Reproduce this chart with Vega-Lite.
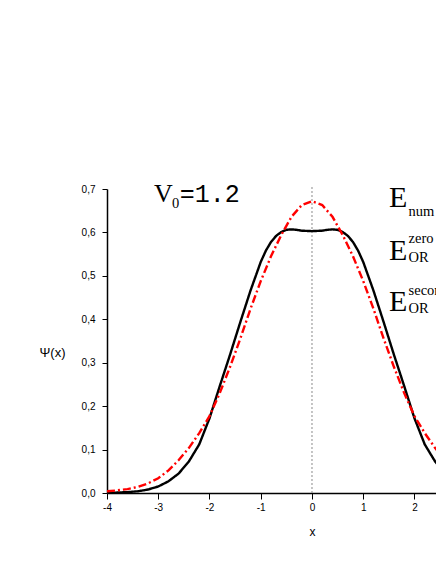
{
  "$schema": "https://vega.github.io/schema/vega-lite/v6.json",
  "width": 329,
  "height": 304,
  "autosize": {"type": "none"},
  "padding": {"left": 107, "top": 189, "right": 0, "bottom": 71},
  "background": "white",
  "config": {"view": {"stroke": null}, "font": "Liberation Sans"},
  "layer": [
    {
      "data": {"values": [{"x": 0}]},
      "mark": {"type": "rule", "color": "#8a8a8a", "strokeWidth": 1, "strokeDash": [2, 2]},
      "encoding": {
        "x": {"field": "x", "type": "quantitative"},
        "y": {"datum": 0},
        "y2": {"datum": 0.708}
      }
    },
    {
      "data": {"values": [
        {"x": -4.0, "psi": 0.0005, "s": "E_num"},
        {"x": -3.8, "psi": 0.001, "s": "E_num"},
        {"x": -3.6, "psi": 0.002, "s": "E_num"},
        {"x": -3.4, "psi": 0.004, "s": "E_num"},
        {"x": -3.2, "psi": 0.008, "s": "E_num"},
        {"x": -3.0, "psi": 0.015, "s": "E_num"},
        {"x": -2.8, "psi": 0.027, "s": "E_num"},
        {"x": -2.6, "psi": 0.045, "s": "E_num"},
        {"x": -2.4, "psi": 0.073, "s": "E_num"},
        {"x": -2.2, "psi": 0.112, "s": "E_num"},
        {"x": -2.0, "psi": 0.172, "s": "E_num"},
        {"x": -1.8, "psi": 0.246, "s": "E_num"},
        {"x": -1.6, "psi": 0.318, "s": "E_num"},
        {"x": -1.4, "psi": 0.393, "s": "E_num"},
        {"x": -1.2, "psi": 0.466, "s": "E_num"},
        {"x": -1.0, "psi": 0.532, "s": "E_num"},
        {"x": -0.9, "psi": 0.558, "s": "E_num"},
        {"x": -0.8, "psi": 0.578, "s": "E_num"},
        {"x": -0.7, "psi": 0.592, "s": "E_num"},
        {"x": -0.6, "psi": 0.601, "s": "E_num"},
        {"x": -0.5, "psi": 0.606, "s": "E_num"},
        {"x": -0.4, "psi": 0.607, "s": "E_num"},
        {"x": -0.3, "psi": 0.606, "s": "E_num"},
        {"x": -0.2, "psi": 0.604, "s": "E_num"},
        {"x": -0.1, "psi": 0.6035, "s": "E_num"},
        {"x": 0.0, "psi": 0.603, "s": "E_num"},
        {"x": 0.1, "psi": 0.6035, "s": "E_num"},
        {"x": 0.2, "psi": 0.604, "s": "E_num"},
        {"x": 0.3, "psi": 0.606, "s": "E_num"},
        {"x": 0.4, "psi": 0.607, "s": "E_num"},
        {"x": 0.5, "psi": 0.606, "s": "E_num"},
        {"x": 0.6, "psi": 0.601, "s": "E_num"},
        {"x": 0.7, "psi": 0.592, "s": "E_num"},
        {"x": 0.8, "psi": 0.578, "s": "E_num"},
        {"x": 0.9, "psi": 0.558, "s": "E_num"},
        {"x": 1.0, "psi": 0.532, "s": "E_num"},
        {"x": 1.2, "psi": 0.466, "s": "E_num"},
        {"x": 1.4, "psi": 0.393, "s": "E_num"},
        {"x": 1.6, "psi": 0.318, "s": "E_num"},
        {"x": 1.8, "psi": 0.246, "s": "E_num"},
        {"x": 2.0, "psi": 0.172, "s": "E_num"},
        {"x": 2.2, "psi": 0.112, "s": "E_num"},
        {"x": 2.4, "psi": 0.073, "s": "E_num"},
        {"x": 2.6, "psi": 0.045, "s": "E_num"},
        {"x": 2.8, "psi": 0.027, "s": "E_num"},
        {"x": 3.0, "psi": 0.015, "s": "E_num"},
        {"x": -4.0, "psi": 0.004, "s": "E_OR"},
        {"x": -3.8, "psi": 0.006, "s": "E_OR"},
        {"x": -3.6, "psi": 0.009, "s": "E_OR"},
        {"x": -3.4, "psi": 0.014, "s": "E_OR"},
        {"x": -3.2, "psi": 0.022, "s": "E_OR"},
        {"x": -3.0, "psi": 0.034, "s": "E_OR"},
        {"x": -2.8, "psi": 0.052, "s": "E_OR"},
        {"x": -2.6, "psi": 0.076, "s": "E_OR"},
        {"x": -2.4, "psi": 0.104, "s": "E_OR"},
        {"x": -2.2, "psi": 0.138, "s": "E_OR"},
        {"x": -2.0, "psi": 0.177, "s": "E_OR"},
        {"x": -1.8, "psi": 0.230, "s": "E_OR"},
        {"x": -1.6, "psi": 0.290, "s": "E_OR"},
        {"x": -1.4, "psi": 0.355, "s": "E_OR"},
        {"x": -1.2, "psi": 0.424, "s": "E_OR"},
        {"x": -1.0, "psi": 0.488, "s": "E_OR"},
        {"x": -0.8, "psi": 0.545, "s": "E_OR"},
        {"x": -0.6, "psi": 0.594, "s": "E_OR"},
        {"x": -0.4, "psi": 0.636, "s": "E_OR"},
        {"x": -0.2, "psi": 0.663, "s": "E_OR"},
        {"x": 0.0, "psi": 0.672, "s": "E_OR"},
        {"x": 0.2, "psi": 0.663, "s": "E_OR"},
        {"x": 0.4, "psi": 0.636, "s": "E_OR"},
        {"x": 0.6, "psi": 0.594, "s": "E_OR"},
        {"x": 0.8, "psi": 0.545, "s": "E_OR"},
        {"x": 1.0, "psi": 0.488, "s": "E_OR"},
        {"x": 1.2, "psi": 0.424, "s": "E_OR"},
        {"x": 1.4, "psi": 0.355, "s": "E_OR"},
        {"x": 1.6, "psi": 0.290, "s": "E_OR"},
        {"x": 1.8, "psi": 0.230, "s": "E_OR"},
        {"x": 2.0, "psi": 0.177, "s": "E_OR"},
        {"x": 2.2, "psi": 0.138, "s": "E_OR"},
        {"x": 2.4, "psi": 0.104, "s": "E_OR"},
        {"x": 2.6, "psi": 0.076, "s": "E_OR"},
        {"x": 2.8, "psi": 0.052, "s": "E_OR"},
        {"x": 3.0, "psi": 0.034, "s": "E_OR"}
      ]},
      "mark": {"type": "line", "strokeWidth": 2.4, "clip": true},
      "encoding": {
        "x": {
          "field": "x", "type": "quantitative",
          "scale": {"domain": [-4, 2.42], "nice": false, "zero": false},
          "axis": {
            "values": [-4, -3.5, -3, -2.5, -2, -1.5, -1, -0.5, 0, 0.5, 1, 1.5, 2],
            "labelExpr": "round(datum.value*10)%10==0 ? toString(datum.value) : ''",
            "tickSize": {"condition": {"test": "round(datum.value*10)%10==0", "value": 6}, "value": 3},
            "grid": false,
            "domainColor": "black", "domainWidth": 1.5,
            "tickColor": "black", "tickWidth": 1,
            "labelFont": "Liberation Sans", "labelFontSize": 10, "labelColor": "black",
            "labelPadding": 3, "labelFlush": false, "labelOverlap": false,
            "title": "x", "titleFont": "Liberation Sans", "titleFontSize": 12,
            "titleFontWeight": "normal", "titleColor": "black",
            "titleX": 205, "titleY": 42, "titleAlign": "center", "titleBaseline": "alphabetic"
          }
        },
        "y": {
          "field": "psi", "type": "quantitative",
          "scale": {"domain": [0, 0.7], "nice": false},
          "axis": {
            "values": [0, 0.05, 0.1, 0.15, 0.2, 0.25, 0.3, 0.35, 0.4, 0.45, 0.5, 0.55, 0.6, 0.65, 0.7],
            "labelExpr": "round(datum.value*100)%10==0 ? replace(format(datum.value,'.1f'),'.',',') : ''",
            "tickSize": {"condition": {"test": "round(datum.value*100)%10==0", "value": 5}, "value": 3},
            "grid": false,
            "domainColor": "black", "domainWidth": 1.5,
            "tickColor": "black", "tickWidth": 1,
            "labelFont": "Liberation Sans", "labelFontSize": 10, "labelColor": "black",
            "labelPadding": 7, "labelFlush": false, "labelOverlap": false,
            "title": "Ψ(x)", "titleFont": "Liberation Sans", "titleFontSize": 13,
            "titleFontWeight": "normal", "titleColor": "black", "titleAngle": 0,
            "titleX": -55, "titleY": 163, "titleAlign": "center", "titleBaseline": "middle"
          }
        },
        "color": {
          "field": "s", "type": "nominal", "legend": null,
          "scale": {"domain": ["E_num", "E_OR"], "range": ["black", "#ff0000"]}
        },
        "strokeDash": {
          "field": "s", "type": "nominal", "legend": null,
          "scale": {"domain": ["E_num", "E_OR"], "range": [[1, 0], [8, 3, 2, 3]]}
        }
      }
    },
    {
      "data": {"values": [
        {"x": -3.083, "y": 0.6707, "t": "V"}
      ]},
      "mark": {"type": "text", "font": "Liberation Serif", "fontSize": 26, "align": "left", "baseline": "alphabetic", "color": "black"},
      "encoding": {
        "x": {"field": "x", "type": "quantitative"},
        "y": {"field": "y", "type": "quantitative"},
        "text": {"field": "t"}
      }
    },
    {
      "data": {"values": [
        {"x": 1.502, "y": 0.6585, "t": "E"},
        {"x": 1.502, "y": 0.5365, "t": "E"},
        {"x": 1.502, "y": 0.4198, "t": "E"}
      ]},
      "mark": {"type": "text", "font": "Liberation Serif", "fontSize": 30, "align": "left", "baseline": "alphabetic", "color": "black"},
      "encoding": {
        "x": {"field": "x", "type": "quantitative"},
        "y": {"field": "y", "type": "quantitative"},
        "text": {"field": "t"}
      }
    },
    {
      "data": {"values": [
        {"x": -2.73, "y": 0.6555, "t": "0"},
        {"x": 1.885, "y": 0.637, "t": "num"},
        {"x": 1.885, "y": 0.5756, "t": "zero"},
        {"x": 1.885, "y": 0.531, "t": "OR"},
        {"x": 1.885, "y": 0.456, "t": "second"},
        {"x": 1.885, "y": 0.4145, "t": "OR"}
      ]},
      "mark": {"type": "text", "font": "Liberation Serif", "fontSize": 14.5, "align": "left", "baseline": "alphabetic", "color": "black"},
      "encoding": {
        "x": {"field": "x", "type": "quantitative"},
        "y": {"field": "y", "type": "quantitative"},
        "text": {"field": "t"}
      }
    },
    {
      "data": {"values": [
        {"x": -2.58, "y": 0.6707, "t": "=1.2"}
      ]},
      "mark": {"type": "text", "font": "Liberation Mono", "fontSize": 25, "align": "left", "baseline": "alphabetic", "color": "black"},
      "encoding": {
        "x": {"field": "x", "type": "quantitative"},
        "y": {"field": "y", "type": "quantitative"},
        "text": {"field": "t"}
      }
    }
  ]
}
